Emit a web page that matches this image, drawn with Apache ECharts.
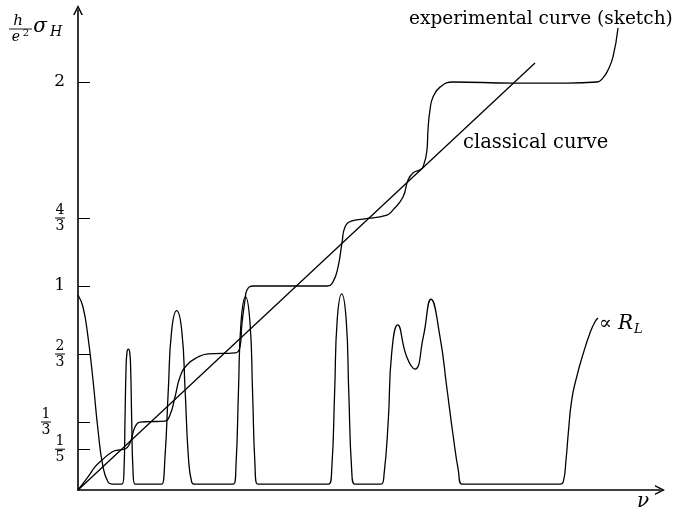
<!DOCTYPE html>
<html><head><meta charset="utf-8">
<script src="https://cdn.jsdelivr.net/npm/echarts@6/dist/echarts.min.js"></script>
<style>html,body{margin:0;padding:0;background:#fff}#c{width:676px;height:514px}</style>
</head><body><div id="c"></div>
<script>
// classical Hall curve (straight line)
const classicalNu = [0, 4.57];
const classicalSigma = [0, 2.093];
// experimental curve (sketch)
const expNu = [0, 0.10, 0.17, 0.24, 0.34, 0.40, 0.47, 0.52, 0.57, 0.62, 0.72, 0.87, 0.92, 0.97, 1.02, 1.09, 1.20, 1.30, 1.57, 1.62, 1.64, 1.67, 1.69, 1.75, 2.49, 2.55, 2.60, 2.64, 2.67, 2.74, 2.85, 3.09, 3.15, 3.25, 3.30, 3.35, 3.42, 3.45, 3.49, 3.50, 3.52, 3.55, 3.62, 3.75, 4.35, 4.89, 5.19, 5.25, 5.30, 5.35, 5.40];
const expSigma = [0, 0.064, 0.113, 0.147, 0.186, 0.196, 0.201, 0.230, 0.309, 0.333, 0.335, 0.338, 0.368, 0.456, 0.554, 0.613, 0.652, 0.667, 0.672, 0.701, 0.819, 0.931, 0.980, 1.0, 1.0, 1.02, 1.093, 1.211, 1.289, 1.319, 1.328, 1.348, 1.373, 1.436, 1.52, 1.554, 1.569, 1.583, 1.667, 1.765, 1.863, 1.926, 1.975, 2.0, 1.995, 1.995, 2.0, 2.02, 2.059, 2.123, 2.265];
// longitudinal resistance (arbitrary units)
const rlNu = [0, 0.05, 0.10, 0.15, 0.20, 0.25, 0.30, 0.34, 0.44, 0.46, 0.47, 0.48, 0.49, 0.503, 0.517, 0.527, 0.537, 0.55, 0.57, 0.82, 0.84, 0.87, 0.903, 0.937, 0.987, 1.037, 1.071, 1.104, 1.137, 1.17, 1.555, 1.58, 1.605, 1.63, 1.675, 1.72, 1.745, 1.77, 1.795, 2.507, 2.537, 2.567, 2.592, 2.637, 2.682, 2.707, 2.737, 2.767, 3.03, 3.06, 3.103, 3.137, 3.197, 3.287, 3.37, 3.453, 3.53, 3.62, 3.687, 3.753, 3.803, 3.84, 4.82, 4.853, 4.88, 4.903, 4.937, 4.987, 5.053, 5.12, 5.17, 5.20];
const rlVal = [0.956, 0.897, 0.750, 0.539, 0.294, 0.113, 0.039, 0.029, 0.029, 0.098, 0.343, 0.588, 0.676, 0.691, 0.676, 0.588, 0.343, 0.098, 0.029, 0.029, 0.029, 0.162, 0.49, 0.784, 0.879, 0.784, 0.49, 0.162, 0.039, 0.029, 0.029, 0.12, 0.49, 0.82, 0.948, 0.82, 0.49, 0.12, 0.029, 0.029, 0.098, 0.49, 0.833, 0.961, 0.833, 0.49, 0.098, 0.029, 0.029, 0.074, 0.343, 0.672, 0.809, 0.653, 0.593, 0.751, 0.935, 0.751, 0.506, 0.261, 0.098, 0.029, 0.029, 0.041, 0.147, 0.279, 0.441, 0.555, 0.670, 0.770, 0.825, 0.843];
// y ticks (value, numerator, denominator)
const yTickValues = [0.2, 1/3, 2/3, 1, 4/3, 2];
const yTickNum = ['1', '1', '2', '1', '4', '2'];
const yTickDen = ['5', '3', '3', '', '3', ''];
const yShiftedTick = [1/3];

const serif = '"DejaVu Serif", "Liberation Serif", serif';
const zip = (a, b) => a.map((v, i) => [v, b[i]]);
const chevron = 'path://M0,10L5,0L10,10L8.4,10L5,3.2L1.6,10Z';

function tickLabel(v) {
  const i = yTickValues.findIndex(t => Math.abs(t - v) < 1e-6);
  if (i < 0) return '';
  if (!yTickDen[i]) return '{w|' + yTickNum[i] + '}';
  return '{n|' + yTickNum[i] + '}\n{bar| }\n{d|' + yTickDen[i] + '}';
}
const richLabels = {
  w: { fontSize: 17, fontFamily: serif, color: '#000' },
  n: { fontSize: 14, lineHeight: 13, width: 10, align: 'center', fontFamily: serif, color: '#000' },
  d: { fontSize: 14, lineHeight: 13, width: 10, align: 'center', fontFamily: serif, color: '#000' },
  bar: { width: 10, height: 1, lineHeight: 3, backgroundColor: '#000', fontSize: 2 }
};
const mainTicks = yTickValues.filter(v => !yShiftedTick.some(s => Math.abs(s - v) < 1e-6));

const line = { color: '#000', width: 1.3 };
const chart = echarts.init(document.getElementById('c'));
chart.setOption({
  animation: false,
  backgroundColor: '#fff',
  grid: { left: 78, right: 16, top: 10, bottom: 24, containLabel: false },
  xAxis: {
    type: 'value', min: 0, max: 5.82,
    axisLine: { show: true, onZero: false, symbol: ['none', chevron], symbolSize: [11, 10], lineStyle: { color: '#000', width: 1.6 } },
    axisTick: { show: false }, axisLabel: { show: false }, splitLine: { show: false }
  },
  yAxis: [{
    type: 'value', min: 0, max: 2.353, position: 'left',
    axisLine: { show: true, onZero: false, symbol: ['none', chevron], symbolSize: [11, 10], lineStyle: { color: '#000', width: 1.6 } },
    axisTick: { show: true, inside: true, length: 12, customValues: yTickValues, lineStyle: { color: '#000', width: 1 } },
    axisLabel: { show: true, margin: 13, hideOverlap: false, customValues: mainTicks, formatter: tickLabel, color: '#000', fontFamily: serif, rich: richLabels },
    splitLine: { show: false }
  }, {
    type: 'value', min: 0, max: 2.353, position: 'left', offset: 0,
    axisLine: { show: false }, axisTick: { show: false },
    axisLabel: { show: true, margin: 27, hideOverlap: false, customValues: yShiftedTick, formatter: tickLabel, color: '#000', fontFamily: serif, rich: richLabels },
    splitLine: { show: false }
  }],
  series: [
    { type: 'line', name: 'classical', data: zip(classicalNu, classicalSigma), showSymbol: false, lineStyle: line, silent: true },
    { type: 'line', name: 'experimental', data: zip(expNu, expSigma), showSymbol: false, smooth: 0.5, lineStyle: line, silent: true },
    { type: 'line', name: 'RL', data: zip(rlNu, rlVal), showSymbol: false, smooth: 0.5, lineStyle: line, silent: true }
  ],
  graphic: [
    { type: 'text', left: 409, top: 10, style: { text: 'experimental curve (sketch)', font: '18.5px ' + serif, fill: '#000' } },
    { type: 'text', left: 463, top: 133, style: { text: 'classical curve', font: '19.5px ' + serif, fill: '#000' } },
    { type: 'text', left: 599, top: 314, style: { text: '∝ {r|R}{s|L}', font: '19px ' + serif, fill: '#000',
        rich: { r: { fontSize: 20, fontStyle: 'italic', fontFamily: serif }, s: { fontSize: 13, fontStyle: 'italic', fontFamily: serif, padding: [11, 0, 0, 1] } } } },
    { type: 'text', left: 637, top: 492, style: { text: 'ν', font: 'italic 20px ' + serif, fill: '#000' } },
    { type: 'text', x: 18, y: 21, style: { text: 'h', font: 'italic 15px ' + serif, fill: '#000', align: 'center', verticalAlign: 'middle' } },
    { type: 'line', shape: { x1: 9, y1: 29, x2: 32, y2: 29 }, style: { stroke: '#000', lineWidth: 0.9 } },
    { type: 'text', x: 16, y: 37, style: { text: 'e', font: 'italic 14px ' + serif, fill: '#000', align: 'center', verticalAlign: 'middle' } },
    { type: 'text', x: 26, y: 33, style: { text: '2', font: '10px ' + serif, fill: '#000', align: 'center', verticalAlign: 'middle' } },
    { type: 'text', x: 40, y: 27, style: { text: 'σ', font: 'italic 20px ' + serif, fill: '#000', align: 'center', verticalAlign: 'middle' } },
    { type: 'text', x: 56, y: 32, style: { text: 'H', font: 'italic 14px ' + serif, fill: '#000', align: 'center', verticalAlign: 'middle' } }
  ]
});
</script>
</body></html>
